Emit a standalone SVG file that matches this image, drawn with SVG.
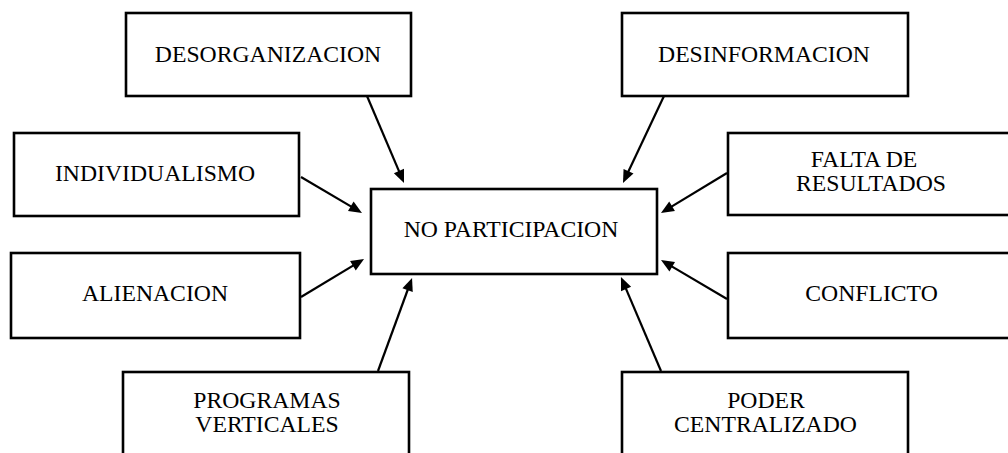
<svg xmlns="http://www.w3.org/2000/svg" width="1008" height="453" viewBox="0 0 1008 453">
<style>
.box{fill:#fff;stroke:#000;stroke-width:2.6}
.t{font-family:"Liberation Serif","Times New Roman",serif;font-size:23.7px;fill:#000;text-anchor:middle}
.c{stroke:#000;stroke-width:2.2;fill:none;marker-end:url(#ah)}
</style>
<defs>
<marker id="ah" markerUnits="userSpaceOnUse" markerWidth="14" markerHeight="12" refX="5" refY="6" orient="auto" overflow="visible">
<path d="M0,0.5 L13,6 L0,11.5 z" fill="#000"/>
</marker>
</defs>
<rect width="1008" height="453" fill="#fff"/>
<g id="connectors">
<line class="c" x1="367" y1="96" x2="400.9" y2="175.6"/>
<line class="c" x1="301" y1="177" x2="355.1" y2="208.9"/>
<line class="c" x1="664" y1="96" x2="626.4" y2="175.8"/>
<line class="c" x1="727" y1="173" x2="667.8" y2="208.9"/>
<line class="c" x1="301" y1="297" x2="357.2" y2="263.1"/>
<line class="c" x1="378" y1="371" x2="409.3" y2="285.5"/>
<line class="c" x1="727" y1="299" x2="667.9" y2="264.1"/>
<line class="c" x1="661" y1="371" x2="624.1" y2="284.4"/>
</g>
<g id="no-participacion">
<rect class="box" x="371" y="189" width="286" height="85"/>
<text class="t" x="511" y="237">NO PARTICIPACION</text>
</g>
<g id="desorganizacion">
<rect class="box" x="126" y="13" width="285" height="83"/>
<text class="t" x="268" y="61.5">DESORGANIZACION</text>
</g>
<g id="desinformacion">
<rect class="box" x="622" y="13" width="286" height="83"/>
<text class="t" x="764" y="61.5">DESINFORMACION</text>
</g>
<g id="individualismo">
<rect class="box" x="14" y="133" width="285" height="83"/>
<text class="t" x="155" y="181">INDIVIDUALISMO</text>
</g>
<g id="falta-de-resultados">
<rect class="box" x="728" y="133" width="287" height="82"/>
<text class="t" x="864" y="167">FALTA DE</text>
<text class="t" x="871" y="191">RESULTADOS</text>
</g>
<g id="alienacion">
<rect class="box" x="11" y="253" width="289" height="85"/>
<text class="t" x="155" y="301">ALIENACION</text>
</g>
<g id="conflicto">
<rect class="box" x="728" y="253" width="287" height="85"/>
<text class="t" x="871.5" y="301">CONFLICTO</text>
</g>
<g id="programas-verticales">
<rect class="box" x="123" y="372" width="286" height="90"/>
<text class="t" x="267" y="407.5">PROGRAMAS</text>
<text class="t" x="267" y="431.5">VERTICALES</text>
</g>
<g id="poder-centralizado">
<rect class="box" x="622" y="372" width="286" height="90"/>
<text class="t" x="766" y="407.5">PODER</text>
<text class="t" x="765.5" y="431.5">CENTRALIZADO</text>
</g>
</svg>
